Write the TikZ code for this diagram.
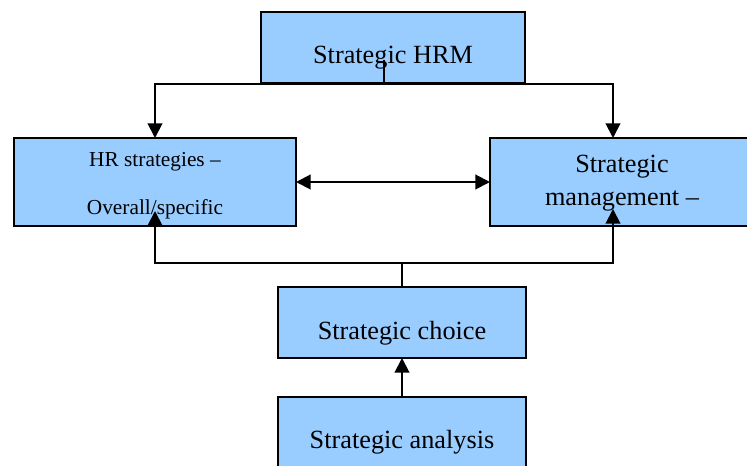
\documentclass[tikz,border=0pt]{standalone}
\usepackage{fontspec}
\setmainfont{Liberation Serif}
\usetikzlibrary{arrows.meta}
\definecolor{boxblue}{HTML}{99CCFF}
\tikzset{
  box/.style={draw=black, fill=boxblue, line width=1pt, inner sep=0pt, outer sep=0pt,
    align=center, font=\fontsize{19.7}{24.75}\selectfont},
  txt/.style={align=center, inner sep=0pt, font=\fontsize{19.7}{24.75}\selectfont},
  conn/.style={line width=1.5pt},
  arr/.style={line width=1.5pt, -{Triangle[length=11pt,width=11pt]}},
  darr/.style={line width=1.5pt, {Triangle[length=11pt,width=11pt]}-{Triangle[length=11pt,width=11pt]}}
}
\begin{document}
\begin{tikzpicture}[x=0.75pt,y=-0.75pt]
\clip (0,0) rectangle (747,466);
\fill[white] (0,0) rectangle (747,466);
\node[box, minimum width=198pt, minimum height=53.25pt,
  label={[txt, yshift=-7.5pt]center:Strategic HRM}] (hrm) at (393,47.5) {};
\node[box, minimum width=211.5pt, minimum height=66pt,
  label={[txt, yshift=-3pt, font=\fontsize{16}{36}\selectfont]center:HR strategies --\\Overall/specific}] (hr) at (155,182) {};
\node[box, minimum width=198pt, minimum height=66pt,
  label={[txt, yshift=-0.5pt]center:Strategic\\management --}] (mgmt) at (622,182) {};
\node[box, minimum width=186pt, minimum height=53.25pt,
  label={[txt, yshift=-8pt]center:Strategic choice}] (choice) at (402,322.5) {};
\node[box, minimum width=186pt, minimum height=53.25pt,
  label={[txt, yshift=-7.5pt]center:Strategic analysis}] (analysis) at (402,432.5) {};
% top distribution
\coordinate (hs) at (384,60);
\coordinate (hj) at (384,84);
\coordinate (hrtop) at (155,138);
\coordinate (mgtop) at (613,138);
\draw[conn] (hs) -- (hj);
\draw[arr] (hj) -| (hrtop);
\draw[arr] (hj) -| (mgtop);
% double arrow
\draw[darr] (hr.east) -- (mgmt.west);
% feedback from choice
\coordinate (fj) at (402,263);
\coordinate (hrin) at (155,211);
\coordinate (mgin) at (613,209);
\draw[conn] (choice.north) -- (fj);
\draw[arr] (fj) -| (hrin);
\draw[arr] (fj) -| (mgin);
% analysis to choice
\draw[arr] (analysis.north) -- (choice.south);
\end{tikzpicture}
\end{document}
